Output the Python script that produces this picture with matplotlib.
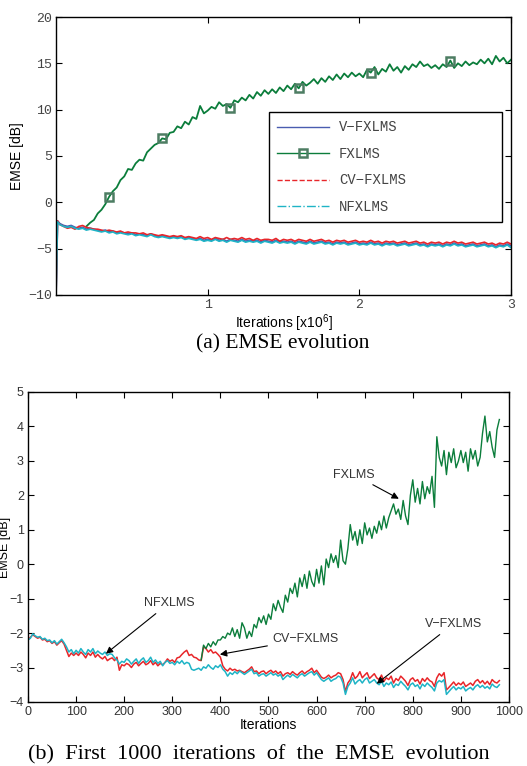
"""EMSE evolution of V-FXLMS, FXLMS, CV-FXLMS and NFXLMS"""
import numpy as np
from matplotlib import pyplot as plt
from matplotlib.lines import Line2D

plt.rcParams['font.family'] = ['Liberation Sans', 'DejaVu Sans']
plt.rcParams['mathtext.default'] = 'regular'

BLUE = '#4a5cb0'
GREEN = '#0b7d3b'
RED = '#e8262a'
CYAN = '#1fb4c6'

# ---- (a) full run, iterations in units of 1e6 ----
top_x_low = [0.0, 0.01] + [0.025 * k for k in range(1, 121)]
top_x_green = [0.2 + 0.025 * k for k in range(113)]

vfxlms_a = [-10.0, -2.0,
            -2.3, -2.5, -2.6, -2.5, -2.7, -2.8, -2.7, -2.9, -2.8, -2.9,
            -3.0, -3.1, -3.0, -3.2, -3.1, -3.3, -3.2, -3.3, -3.4, -3.3,
            -3.5, -3.4, -3.5, -3.6, -3.4, -3.6, -3.7, -3.6, -3.7, -3.8,
            -3.7, -3.8, -3.7, -3.9, -3.8, -3.9, -4.0, -3.9, -4.1, -4.0,
            -4.1, -3.9, -4.1, -4.0, -4.2, -4.0, -4.1, -4.2, -4.0, -4.2,
            -4.1, -4.2, -4.1, -4.3, -4.1, -4.2, -4.3, -4.1, -4.3, -4.2,
            -4.3, -4.2, -4.4, -4.2, -4.3, -4.4, -4.2, -4.4, -4.3, -4.2,
            -4.4, -4.3, -4.5, -4.3, -4.4, -4.3, -4.5, -4.4, -4.3, -4.5,
            -4.4, -4.5, -4.3, -4.5, -4.4, -4.6, -4.4, -4.5, -4.4, -4.6,
            -4.5, -4.4, -4.6, -4.5, -4.4, -4.6, -4.5, -4.7, -4.5, -4.6,
            -4.5, -4.7, -4.5, -4.6, -4.4, -4.6, -4.5, -4.7, -4.6, -4.5,
            -4.7, -4.6, -4.5, -4.7, -4.6, -4.8, -4.6, -4.7, -4.5, -4.7]

fxlms_a = [-2.6, -2.2, -1.9, -1.2, -0.8, -0.2, 0.6, 1.2, 1.6, 2.4,
           2.8, 3.6, 3.5, 4.2, 4.6, 4.5, 5.4, 5.8, 6.2, 6.4,
           6.9, 6.8, 7.5, 7.6, 8.2, 8.0, 8.7, 8.4, 9.2, 9.0,
           10.4, 9.6, 9.9, 10.3, 10.1, 10.8, 10.4, 10.6, 10.2, 11.0,
           10.8, 11.3, 11.0, 11.6, 11.2, 11.9, 11.5, 12.1, 11.7, 12.2,
           11.8, 12.4, 12.0, 12.6, 12.2, 12.8, 12.3, 13.0, 12.6, 12.9,
           13.3, 12.8, 13.4, 13.0, 13.6, 13.2, 13.8, 13.3, 13.9, 13.5,
           14.0, 13.6, 13.9, 13.5, 14.3, 14.0, 14.6, 13.8, 14.4, 14.1,
           14.9, 14.2, 14.6, 14.0, 14.7, 14.3, 14.9, 14.6, 15.2, 14.7,
           14.9, 14.5, 14.8, 14.4, 14.9, 14.6, 15.3, 14.5, 15.0, 14.7,
           15.2, 14.8, 15.1, 14.9, 15.4, 15.0, 15.5, 14.9, 15.8, 15.2,
           15.6, 15.0, 15.4]
fxlms_marks = [6, 20, 38, 56, 75, 96]

cvfxlms_a = [-10.0, -2.0,
             -2.4, -2.6, -2.8, -2.7, -2.9, -2.6, -2.5, -2.7, -2.8, -2.9,
             -2.9, -3.0, -3.1, -3.0, -3.1, -3.2, -3.1, -3.3, -3.2, -3.3,
             -3.3, -3.4, -3.3, -3.5, -3.4, -3.5, -3.6, -3.5, -3.6, -3.7,
             -3.6, -3.7, -3.6, -3.8, -3.7, -3.8, -3.9, -3.7, -3.9, -3.8,
             -4.0, -3.8, -3.9, -4.0, -3.8, -4.0, -3.9, -4.0, -3.8, -4.0,
             -3.9, -4.1, -3.9, -4.1, -4.0, -4.0, -4.1, -3.9, -4.2, -4.0,
             -4.1, -4.0, -4.2, -4.0, -4.1, -4.2, -4.0, -4.2, -4.1, -4.0,
             -4.2, -4.1, -4.3, -4.1, -4.2, -4.1, -4.3, -4.2, -4.1, -4.3,
             -4.2, -4.3, -4.1, -4.3, -4.2, -4.4, -4.2, -4.3, -4.2, -4.4,
             -4.3, -4.2, -4.4, -4.3, -4.2, -4.4, -4.3, -4.5, -4.3, -4.4,
             -4.3, -4.5, -4.3, -4.4, -4.2, -4.4, -4.3, -4.5, -4.4, -4.3,
             -4.5, -4.4, -4.3, -4.5, -4.4, -4.6, -4.4, -4.5, -4.3, -4.5]

nfxlms_a = [-10.0, -2.1,
            -2.4, -2.6, -2.7, -2.6, -2.8, -2.9, -2.8, -3.0, -2.9, -3.0,
            -3.1, -3.2, -3.1, -3.3, -3.2, -3.4, -3.3, -3.4, -3.5, -3.4,
            -3.6, -3.5, -3.6, -3.7, -3.5, -3.7, -3.8, -3.7, -3.8, -3.9,
            -3.8, -3.9, -3.8, -4.0, -3.9, -4.0, -4.1, -4.0, -4.2, -4.1,
            -4.2, -4.0, -4.2, -4.1, -4.3, -4.1, -4.2, -4.3, -4.1, -4.3,
            -4.2, -4.3, -4.2, -4.4, -4.2, -4.3, -4.4, -4.2, -4.4, -4.3,
            -4.4, -4.3, -4.5, -4.3, -4.4, -4.5, -4.3, -4.5, -4.4, -4.3,
            -4.5, -4.4, -4.6, -4.4, -4.5, -4.4, -4.6, -4.5, -4.4, -4.6,
            -4.5, -4.6, -4.4, -4.6, -4.5, -4.7, -4.5, -4.6, -4.5, -4.7,
            -4.6, -4.5, -4.7, -4.6, -4.5, -4.7, -4.6, -4.8, -4.6, -4.7,
            -4.6, -4.8, -4.6, -4.7, -4.5, -4.7, -4.6, -4.8, -4.7, -4.6,
            -4.8, -4.7, -4.6, -4.8, -4.7, -4.9, -4.7, -4.8, -4.6, -4.9]

# ---- (b) first 1000 iterations, sampled every 5 iterations ----
bot_x = list(range(0, 985, 5))
bot_x_green = list(range(360, 985, 5))

nfxlms_b = [-2.20, -2.15, -2.02, -2.08, -2.12, -2.10, -2.18, -2.15, -2.22, -2.20,
            -2.28, -2.22, -2.32, -2.25, -2.18, -2.28, -2.40, -2.55, -2.48, -2.60,
            -2.50, -2.58, -2.45, -2.55, -2.62, -2.48, -2.55, -2.45, -2.60, -2.52,
            -2.58, -2.62, -2.55, -2.65, -2.60, -2.62, -2.72, -2.78, -2.90, -2.82,
            -2.85, -2.75, -2.80, -2.90, -2.82, -2.75, -2.88, -2.78, -2.72, -2.85,
            -2.80, -2.70, -2.85, -2.78, -2.88, -2.82, -2.95, -2.85, -2.80, -2.88,
            -2.85, -2.92, -2.82, -2.88, -2.80, -2.90, -2.85, -2.88, -3.05, -3.08,
            -3.05, -3.02, -3.08, -2.98, -3.02, -2.92, -3.00, -3.05, -2.95, -3.00,
            -2.92, -3.05, -3.12, -3.25, -3.15, -3.20, -3.12, -3.18, -3.10, -3.15,
            -3.20, -3.15, -3.10, -3.05, -3.18, -3.15, -3.25, -3.20, -3.18, -3.25,
            -3.20, -3.15, -3.22, -3.18, -3.25, -3.20, -3.35, -3.28, -3.22, -3.28,
            -3.20, -3.25, -3.30, -3.22, -3.18, -3.25, -3.20, -3.15, -3.12, -3.22,
            -3.15, -3.25, -3.35, -3.40, -3.35, -3.30, -3.40, -3.35, -3.32, -3.25,
            -3.28, -3.45, -3.78, -3.55, -3.45, -3.30, -3.48, -3.40, -3.35, -3.45,
            -3.35, -3.30, -3.45, -3.40, -3.35, -3.45, -3.50, -3.40, -3.55, -3.45,
            -3.50, -3.42, -3.58, -3.48, -3.52, -3.40, -3.48, -3.55, -3.65, -3.50,
            -3.45, -3.55, -3.50, -3.62, -3.48, -3.55, -3.45, -3.52, -3.58, -3.68,
            -3.45, -3.38, -3.42, -3.35, -3.78, -3.70, -3.62, -3.55, -3.65, -3.58,
            -3.62, -3.55, -3.68, -3.62, -3.58, -3.65, -3.55, -3.50, -3.58, -3.52,
            -3.60, -3.55, -3.62, -3.48, -3.55, -3.58, -3.50]

cvfxlms_b = [-2.20, -2.12, -2.05, -2.10, -2.15, -2.12, -2.20, -2.18, -2.25, -2.22,
             -2.30, -2.25, -2.35, -2.28, -2.22, -2.32, -2.50, -2.68, -2.58, -2.65,
             -2.58, -2.65, -2.55, -2.62, -2.72, -2.58, -2.65, -2.55, -2.70, -2.62,
             -2.70, -2.75, -2.68, -2.80, -2.75, -2.72, -2.80, -2.70, -3.08, -2.92,
             -2.95, -2.88, -2.92, -3.00, -2.90, -2.85, -2.95, -2.88, -2.82, -2.92,
             -2.88, -2.80, -2.92, -2.85, -2.95, -2.88, -2.92, -2.85, -2.75, -2.82,
             -2.78, -2.85, -2.72, -2.70, -2.62, -2.55, -2.50, -2.65, -2.62, -2.70,
             -2.72, -2.78, -2.80, -2.40, -2.45, -2.55, -2.48, -2.58, -2.55, -2.62,
             -2.70, -2.95, -3.05, -3.10, -3.02, -3.08, -3.05, -3.10, -3.08, -3.12,
             -3.15, -3.10, -3.05, -2.98, -3.12, -3.10, -3.18, -3.12, -3.10, -3.18,
             -3.12, -3.08, -3.15, -3.10, -3.18, -3.12, -3.25, -3.18, -3.15, -3.20,
             -3.12, -3.18, -3.22, -3.15, -3.10, -3.18, -3.12, -3.08, -3.02, -3.15,
             -3.08, -3.18, -3.28, -3.32, -3.28, -3.22, -3.30, -3.25, -3.22, -3.15,
             -3.18, -3.35, -3.70, -3.45, -3.35, -3.15, -3.32, -3.25, -3.12, -3.30,
             -3.22, -3.15, -3.32, -3.25, -3.18, -3.30, -3.35, -3.22, -3.40, -3.30,
             -3.35, -3.25, -3.45, -3.32, -3.38, -3.25, -3.32, -3.40, -3.52, -3.35,
             -3.30, -3.40, -3.35, -3.48, -3.32, -3.40, -3.30, -3.38, -3.42, -3.55,
             -3.30, -3.18, -3.25, -3.15, -3.65, -3.58, -3.50, -3.42, -3.52, -3.45,
             -3.50, -3.42, -3.55, -3.50, -3.45, -3.52, -3.40, -3.35, -3.45, -3.38,
             -3.48, -3.40, -3.50, -3.35, -3.42, -3.45, -3.38]

fxlms_b = [-2.78, -2.35, -2.45, -2.30, -2.40, -2.25, -2.35, -2.20,
           -2.20, -2.10, -2.15, -2.00, -2.05, -1.85, -2.10, -1.90, -2.15, -1.70,
           -1.85, -2.15, -1.95, -2.10, -1.75, -1.85, -1.55, -1.70, -1.50, -1.75,
           -1.45, -1.60, -1.15, -1.35, -1.05, -1.25, -1.40, -0.90, -1.10, -0.70,
           -0.85, -0.55, -0.95, -0.40, -0.65, -0.30, -0.70, -0.20, -0.50, -0.65,
           -0.15, -0.55, -0.05, -0.60, 0.15, -0.10, 0.30, 0.05, 0.25, -0.10,
           0.70, 0.10, 0.00, 0.45, 1.15, 0.70, 0.95, 0.55, 1.00, 0.60,
           1.20, 0.85, 1.05, 0.75, 1.10, 0.90, 1.25, 1.00, 1.40, 1.05,
           1.35, 1.55, 1.75, 1.45, 1.60, 1.30, 1.85, 1.40, 1.15, 2.00,
           2.45, 1.80, 2.20, 1.75, 2.40, 1.90, 2.25, 2.05, 2.55, 1.65,
           3.70, 3.10, 2.85, 3.30, 2.60, 3.25, 2.95, 3.35, 2.80, 3.00,
           3.30, 2.95, 3.25, 2.70, 3.35, 3.05, 3.30, 2.85, 3.10, 3.80,
           4.30, 3.55, 3.85, 3.40, 3.10, 3.90, 4.20]

# annotation text positions and arrow tips (data coordinates)
notes = [('FXLMS', (678, 2.6), (771, 1.9)),
         ('NFXLMS', (293, -1.13), (162, -2.6)),
         ('CV\u2212FXLMS', (578, -2.17), (399, -2.62)),
         ('V\u2212FXLMS', (884, -1.74), (725, -3.47))]


def style_axes(ax, family, size, color):
    ax.tick_params(direction='in', top=True, right=True, length=4,
                   width=0.8, labelsize=size, labelcolor=color, pad=3)
    for lab in ax.get_xticklabels() + ax.get_yticklabels():
        lab.set_family(family)
    for sp in ax.spines.values():
        sp.set_linewidth(1.0)


fig = plt.figure(figsize=(5.27, 7.66), dpi=100)

# (a)
ax1 = fig.add_axes([0.1063, 0.6149, 0.8634, 0.3629])
ax1.plot(top_x_low, vfxlms_a, color=BLUE, lw=1.3)
ax1.plot(top_x_green, fxlms_a, color=GREEN, lw=1.3, marker='s', ms=6,
         mfc='none', mec='#4d7d63', mew=1.8, markevery=fxlms_marks)
ax1.plot(top_x_low, cvfxlms_a, color=RED, lw=1.2)
ax1.plot(top_x_low, nfxlms_a, color=CYAN, lw=1.2)
ax1.set_xlim(0, 3)
ax1.set_ylim(-10, 20)
ax1.set_xticks([1, 2, 3])
ax1.set_yticks(np.arange(-10, 25, 5))
style_axes(ax1, 'Liberation Mono', 9.5, '#444444')
ax1.set_ylabel('EMSE [dB]', fontsize=10, labelpad=3)
ax1.set_xlabel('Iterations [x10$^{6}$]', fontsize=10, labelpad=1)

handles = [Line2D([], [], color=BLUE, lw=1.0),
           Line2D([], [], color=GREEN, lw=1.0, marker='s', ms=6, mfc='none',
                  mec='#4d7d63', mew=1.8),
           Line2D([], [], color=RED, lw=1.0, ls='--'),
           Line2D([], [], color=CYAN, lw=1.0, ls='-.')]
leg = ax1.legend(handles, ['V\u2212FXLMS', 'FXLMS', 'CV\u2212FXLMS', 'NFXLMS'],
                 loc='upper left', bbox_to_anchor=(0.468, 0.291, 0.512, 0.367),
                 mode='expand', prop={'family': 'Liberation Mono', 'size': 10},
                 labelspacing=0.9, handlelength=3.75, handletextpad=0.7,
                 borderpad=0.6, borderaxespad=0, fancybox=False, framealpha=1)
leg.get_frame().set_edgecolor('black')
leg.get_frame().set_linewidth(1.0)
for t in leg.get_texts():
    t.set_color('#444444')

fig.text(0.536, 0.551, '(a) EMSE evolution', family='Liberation Serif',
         fontsize=15.5, ha='center', va='center')

# (b)
ax2 = fig.add_axes([0.0531, 0.0836, 0.9127, 0.4047])
ax2.plot(bot_x, cvfxlms_b, color=RED, lw=1.1)
ax2.plot(bot_x, nfxlms_b, color=CYAN, lw=1.1)
ax2.plot(bot_x_green, fxlms_b, color=GREEN, lw=1.0)
ax2.set_xlim(0, 1000)
ax2.set_ylim(-4, 5)
ax2.set_xticks(np.arange(0, 1100, 100))
ax2.set_yticks(np.arange(-4, 6, 1))
style_axes(ax2, 'Liberation Sans', 9, '#333333')
ax2.set_xlabel('Iterations', fontsize=10, labelpad=0)
ax2.set_ylabel('EMSE [dB]', fontsize=9)
ax2.yaxis.set_label_coords(-0.036, 0.5)

for label, xytext, xy in notes:
    ax2.annotate(label, xy=xy, xytext=xytext, ha='center', va='center',
                 fontsize=9, color='#333333',
                 arrowprops=dict(arrowstyle='-|>', color='black', lw=0.8,
                                 mutation_scale=10, shrinkA=2, shrinkB=0))

fig.text(0.492, 0.0144,
         '(b)  First  1000  iterations  of  the  EMSE  evolution',
         family='Liberation Serif', fontsize=16, ha='center', va='center')

fig.savefig('out.png', dpi=100)
